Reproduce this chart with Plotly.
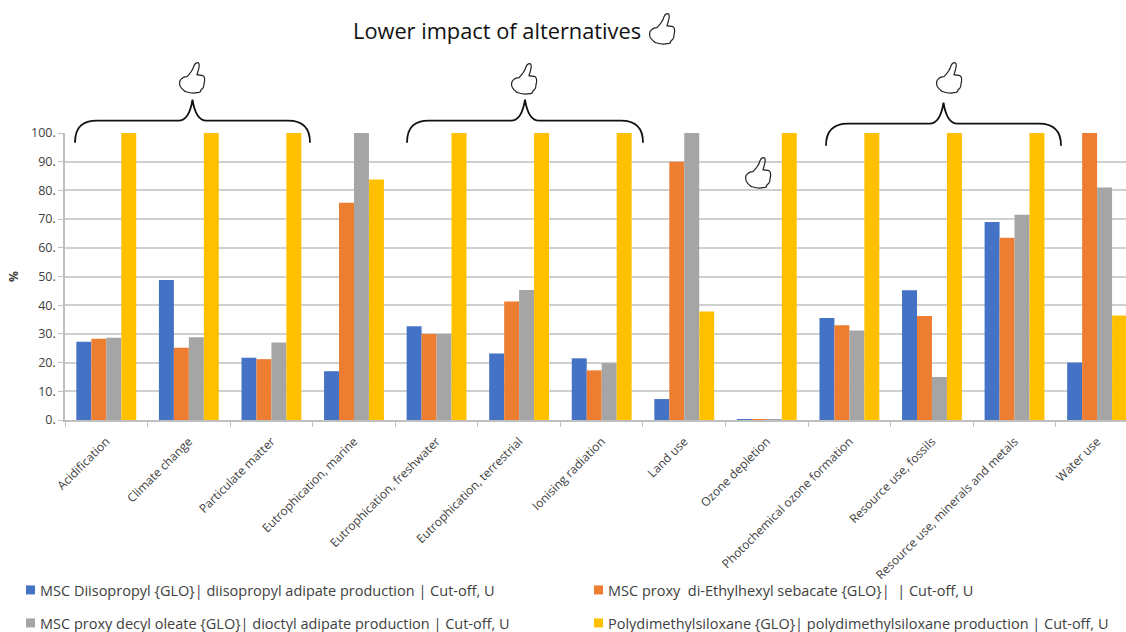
import plotly.graph_objects as go

W, H = 1126, 632
categories = ["Acidification", "Climate change", "Particulate matter", "Eutrophication, marine",
              "Eutrophication, freshwater", "Eutrophication, terrestrial", "Ionising radiation",
              "Land use", "Ozone depletion", "Photochemical ozone formation", "Resource use, fossils",
              "Resource use, minerals and metals", "Water use"]
blue = [27.3, 48.8, 21.7, 17.0, 32.7, 23.2, 21.5, 7.3, 0.3, 35.5, 45.2, 69.0, 20.0]
orange = [28.3, 25.2, 21.2, 75.7, 30.0, 41.3, 17.3, 90.0, 0.3, 33.0, 36.2, 63.5, 100.0]
gray = [28.7, 28.8, 27.0, 100.0, 30.0, 45.3, 19.8, 100.0, 0.3, 31.2, 15.0, 71.5, 81.0]
yellow = [100.0, 100.0, 100.0, 83.8, 100.0, 100.0, 100.0, 37.8, 100.0, 100.0, 100.0, 100.0, 36.4]
series_names = ["MSC Diisopropyl {GLO}| diisopropyl adipate production | Cut-off, U",
                "MSC proxy  di-Ethylhexyl sebacate {GLO}|  | Cut-off, U",
                "MSC proxy decyl oleate {GLO}| dioctyl adipate production | Cut-off, U",
                "Polydimethylsiloxane {GLO}| polydimethylsiloxane production | Cut-off, U"]
colors = ["#4472C4", "#ED7D31", "#A5A5A5", "#FFC000"]
title_text = "Lower impact of alternatives"
FONT = "Open Sans"

L, R, T, B = 65, 1126, 133.3, 420.3

def fx(x):
    return (x - L) / (R - L)

def fy(y):
    return 1 - (y - T) / (B - T)

def px(x, y):
    return f"{fx(x):.5f},{fy(y):.5f}"

def brace_path(x0, x1, top, tip, end):
    m = (x0 + x1) / 2
    return (f"M{px(x0,end)} C{px(x0,top+6)} {px(x0+8,top)} {px(x0+22,top)} "
            f"L{px(m-14,top)} C{px(m-6,top)} {px(m-2,top-8)} {px(m,tip)} "
            f"C{px(m+2,top-8)} {px(m+6,top)} {px(m+14,top)} "
            f"L{px(x1-22,top)} C{px(x1-8,top)} {px(x1,top+6)} {px(x1,end)}")

def thumb_path(x, y):
    p = lambda a, b: px(x + a, y + b)
    return (f"M{p(1,19)} C{p(3,16)} {p(6,15)} {p(8,15)} C{p(11,12)} {p(14,8)} {p(15,4)} "
            f"C{p(16,1)} {p(19,0)} {p(20,2)} C{p(21,5)} {p(19,9)} {p(18,13)} "
            f"L{p(24,14)} C{p(26,15)} {p(26,19)} {p(25,22)} C{p(25,25)} {p(24,27)} {p(22,28)} "
            f"C{p(22,30)} {p(20,31)} {p(18,31)} C{p(14,32)} {p(10,31)} {p(7,30)} "
            f"C{p(5,30)} {p(5,28)} {p(3,27)} C{p(1,25)} {p(0,22)} {p(1,19)} Z")

legend_ids = ["legend", "legend2", "legend3", "legend4"]
legend_pos = [(0, 590), (568, 590), (0, 623), (568, 623)]

fig = go.Figure()
for name, vals, c, lid in zip(series_names, [blue, orange, gray, yellow], colors, legend_ids):
    fig.add_bar(x=categories, y=vals, name=name, marker_color=c, marker_line_width=0, legend=lid,
                showlegend=True)

shapes = []
for x0, x1, top, tip, end in [(75, 310, 121, 100, 143), (407, 643, 121, 100, 143), (826, 1061, 124, 103, 146)]:
    shapes.append(dict(type="path", xref="paper", yref="paper", path=brace_path(x0, x1, top, tip, end),
                       line=dict(color="#111111", width=1.8)))
for x, y in [(179, 62), (511, 63), (936, 62), (745, 157), (649, 13)]:
    shapes.append(dict(type="path", xref="paper", yref="paper", path=thumb_path(x, y),
                       line=dict(color="#222222", width=1.2), fillcolor="rgba(0,0,0,0)"))

# The legends start inside the page so they do not push the margins; the script below places them.
legend_common = dict(xanchor="left", yanchor="middle", x=0, y=fy(590),
                     font=dict(family=FONT, size=14.5, color="#404040"), bgcolor="rgba(0,0,0,0)",
                     itemclick=False, itemdoubleclick=False)

fig.update_layout(
    width=W, height=H, autosize=False, paper_bgcolor="white", plot_bgcolor="white", showlegend=True,
    margin=dict(l=L, r=W-R, t=T, b=H-B), barmode="group", bargap=0.275, bargroupgap=0,
    font=dict(family=FONT, color="#404040"),
    xaxis=dict(type="category", range=[-0.5, 12.35], tickson="boundaries", ticks="outside", ticklen=5,
               tickcolor="#BFBFBF", showline=True, linecolor="#BFBFBF", linewidth=1.5, showgrid=False,
               tickangle=-45, ticklabelstandoff=8, tickfont=dict(family=FONT, size=12, color="#404040")),
    yaxis=dict(range=[0, 100], tick0=0, dtick=10, ticksuffix=".", showgrid=True, gridcolor="#D0D0D0", gridwidth=1.5,
               showline=True, linecolor="#BFBFBF", linewidth=1.5, ticks="outside", ticklen=5, tickcolor="#BFBFBF",
               tickfont=dict(family=FONT, size=12.5, color="#404040"), zeroline=False,
               title=dict(text="<b>%</b>", font=dict(family=FONT, size=12, color="#404040"), standoff=10)),
    shapes=shapes,
    annotations=[dict(text=title_text, xref="paper", yref="paper", x=fx(351), y=fy(31), xanchor="left", yanchor="middle",
                      showarrow=False, font=dict(family=FONT, size=21.8, color="#111111"))],
)
for lid in legend_ids:
    fig.update_layout({lid: legend_common})

place_js = "document.body.style.margin='0';document.documentElement.style.overflow='hidden';"
for lid, (lx, ly) in zip(legend_ids, legend_pos):
    place_js += (f"(function(){{var g=document.querySelector('g.{lid}');if(!g)return;"
                 f"var h=g.querySelector('rect.bg').getBBox().height;"
                 f"g.setAttribute('transform','translate({lx},'+({ly}-h/2)+')');}})();")
place_js += ("document.querySelectorAll('.legendsymbols path').forEach(function(p){"
             "p.setAttribute('transform','translate(30.5,0) scale(0.75)');});")
fig.write_html("out.html", config=dict(displayModeBar=False), post_script=place_js)
